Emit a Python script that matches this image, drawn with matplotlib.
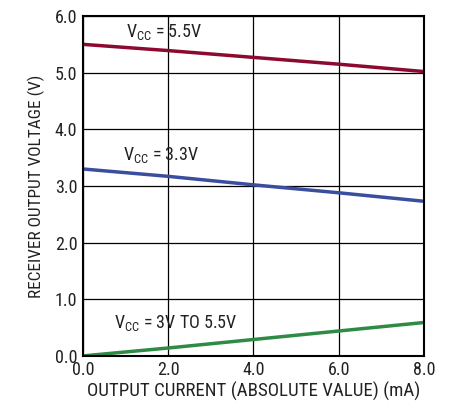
import matplotlib
matplotlib.use("Agg")
import matplotlib.pyplot as plt

# Data
current_ma = [0.0, 2.0, 4.0, 6.0, 8.0]
vout_5v5 = [5.50, 5.39, 5.27, 5.15, 5.02]
vout_3v3 = [3.30, 3.17, 3.02, 2.88, 2.73]
vout_low = [0.00, 0.14, 0.29, 0.44, 0.59]

x_ticks = [0.0, 2.0, 4.0, 6.0, 8.0]
y_ticks = [0.0, 1.0, 2.0, 3.0, 4.0, 5.0, 6.0]

plt.rcParams["font.family"] = ["Roboto Condensed", "Liberation Sans", "DejaVu Sans"]
plt.rcParams["mathtext.fontset"] = "custom"
plt.rcParams["mathtext.rm"] = "Roboto Condensed"
plt.rcParams["mathtext.default"] = "regular"

TEXT = "#222222"

fig = plt.figure(figsize=(4.51, 4.11), dpi=100)
ax = fig.add_axes([0.184, 0.134, 0.756, 0.827])

ax.plot(current_ma, vout_5v5, color="#8c0a30", lw=2.5)
ax.plot(current_ma, vout_3v3, color="#3a4ea0", lw=2.5)
ax.plot(current_ma, vout_low, color="#2e8a45", lw=2.5)

ax.text(1.0, 5.72, r"V$_{CC}$ = 5.5V", fontsize=13, va="center", color=TEXT)
ax.text(0.95, 3.55, r"V$_{CC}$ = 3.3V", fontsize=13, va="center", color=TEXT)
ax.text(0.72, 0.58, r"V$_{CC}$ = 3V TO 5.5V", fontsize=13, va="center", color=TEXT)

ax.set_xlim(0, 8)
ax.set_ylim(0, 6)
ax.set_xticks(x_ticks)
ax.set_yticks(y_ticks)
ax.set_xticklabels([f"{v:.1f}" for v in x_ticks])
ax.set_yticklabels([f"{v:.1f}" for v in y_ticks])
ax.tick_params(length=0, labelsize=13, pad=4, colors=TEXT)
ax.grid(True, color="black", lw=0.9)
for s in ax.spines.values():
    s.set_linewidth(1.5)

ax.set_xlabel("OUTPUT CURRENT (ABSOLUTE VALUE) (mA)", fontsize=13.6, color=TEXT, labelpad=2)
ax.set_ylabel("RECEIVER OUTPUT VOLTAGE (V)", fontsize=12.4, color=TEXT, labelpad=7)

fig.savefig("out.png", dpi=100)
